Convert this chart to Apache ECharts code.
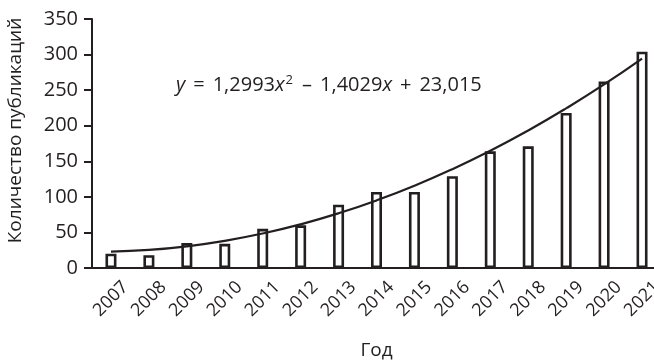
<!DOCTYPE html>
<html><head><meta charset="utf-8">
<script src="https://cdn.jsdelivr.net/npm/echarts@6/dist/echarts.min.js"></script>
<style>html,body{margin:0;padding:0;background:#fff}#c{width:654px;height:360px}</style>
</head><body><div id="c"></div>
<script>
const years = ['2007','2008','2009','2010','2011','2012','2013','2014','2015','2016','2017','2018','2019','2020','2021'];
const publications = [20, 18, 35, 34, 55, 60, 89, 107, 107, 129, 164, 171, 218, 262, 304];
const trend = [22.9, 25.4, 30.5, 38.2, 48.5, 61.4, 76.9, 95.0, 115.6, 138.9, 164.8, 193.3, 224.4, 258.0, 294.3];
const yTicks = [0, 50, 100, 150, 200, 250, 300, 350];
const yTitle = 'Количество публикаций';
const xTitle = 'Год';

const FONT = '"Open Sans", "Noto Sans", sans-serif';
const INK = '#231f20';
const chart = echarts.init(document.getElementById('c'), null, {renderer: 'canvas'});
chart.setOption({
  animation: false,
  backgroundColor: '#fff',
  grid: {left: 92, right: -7, top: 19, bottom: 92, containLabel: false, outerBoundsMode: 'none'},
  xAxis: {
    type: 'category', data: years,
    axisLine: {lineStyle: {color: INK, width: 2}},
    axisTick: {show: false},
    axisLabel: {rotate: 45, align: 'center', verticalAlign: 'middle', color: INK, fontFamily: FONT, fontSize: 18, margin: 31},
    name: xTitle, nameLocation: 'middle', nameGap: 73,
    nameTextStyle: {color: INK, fontFamily: FONT, fontSize: 19, padding: [0, 0, 0, 0]}
  },
  yAxis: {
    type: 'value', min: yTicks[0], max: yTicks[yTicks.length - 1], interval: 50,
    splitLine: {show: false},
    axisLine: {show: true, lineStyle: {color: INK, width: 2}},
    axisTick: {show: true, length: 8, lineStyle: {color: INK, width: 2}},
    axisLabel: {color: INK, fontFamily: FONT, fontSize: 20, margin: 14},
    name: yTitle, nameLocation: 'middle', nameGap: 67, nameRotate: 90,
    nameTextStyle: {color: INK, fontFamily: FONT, fontSize: 19, padding: [0, 0, 0, 26]}
  },
  series: [
    {type: 'bar', data: publications, barWidth: 11,
     itemStyle: {color: '#fff', borderColor: INK, borderWidth: 2.6}},
    {type: 'line', data: trend, smooth: true, symbol: 'none',
     lineStyle: {color: INK, width: 2.2}, z: 5}
  ],
  graphic: [{
    type: 'text', left: 176, top: 74,
    style: {
      text: '{i|y}{o|=}1,2993{i|x}{s|2}{o|–}1,4029{i|x}{o|+}23,015',
      fill: INK, font: '20px ' + FONT,
      rich: {
        i: {fontStyle: 'italic', fontFamily: FONT, fontSize: 20, fill: INK},
        o: {fontFamily: FONT, fontSize: 20, fill: INK, padding: [0, 8, 0, 8]},
        s: {fontSize: 13, fontFamily: FONT, verticalAlign: 'top', padding: [0, 1, 9, 1], fill: INK}
      }
    }
  }]
});
</script></body></html>
